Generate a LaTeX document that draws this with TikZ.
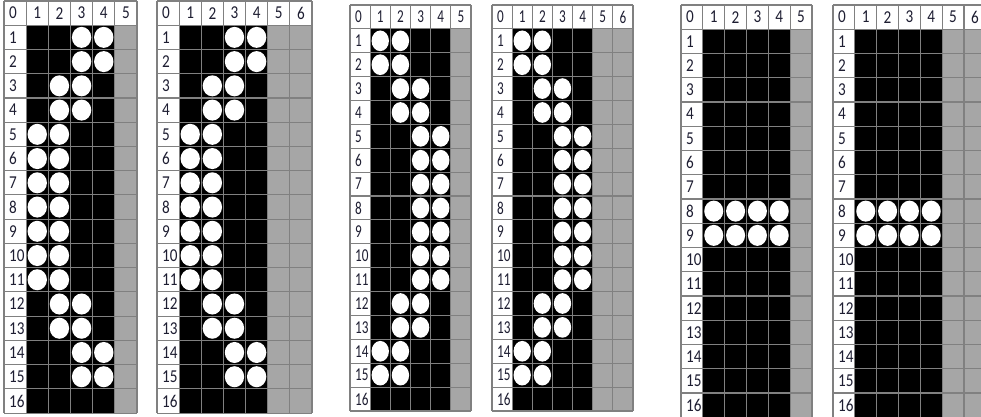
\documentclass[tikz,border=0pt]{standalone}
\usepackage{fontspec}
\setmainfont{Carlito}
\definecolor{gl}{RGB}{128,128,128}
\definecolor{cg}{RGB}{166,166,166}
\definecolor{tx}{RGB}{30,30,50}
\tikzset{
  gridline/.style={draw=gl,line width=1.1pt},
  lbl/.style={inner sep=0pt,font=\fontsize{16.5}{16.5}\selectfont,text=tx},
  dotfill/.style={fill=white}
}
% #1 id, #2 x0, #3 y0, #4 col width, #5 row height, #6 last column index, #7 text x-scale, #8 dot list
\newcommand{\brgrid}[8]{%
  \begin{scope}[shift={(#2,#3)}]
    \pgfmathtruncatemacro\nc{#6+1}
    \fill[white] (0,0) rectangle ({\nc*#4},{17*#5});
    \fill[black] (#4,#5) rectangle ({5*#4},{17*#5});
    \fill[cg] ({5*#4},#5) rectangle ({\nc*#4},{17*#5});
    \foreach \i in {0,...,\nc} \draw[gridline] ({\i*#4},0) -- ({\i*#4},{17*#5});
    \foreach \j in {0,...,17} \draw[gridline] (0,{\j*#5}) -- ({\nc*#4},{\j*#5});
    \foreach \cc/\rr in #8 {\fill[dotfill] ({(\cc+0.5)*#4},{(\rr+0.5)*#5}) ellipse [x radius={(#4/2-1.4)*1pt}, y radius={(#5/2-1.6)*1pt}];}
    \node[lbl,anchor=west] (#1h0) at (5,{0.5*#5}) {\scalebox{#7}[1.1]{0}};
    \foreach \i in {1,...,#6} \node[lbl] (#1h\i) at ({(\i+0.5)*#4},{0.5*#5}) {\scalebox{#7}[1.1]{\i}};
    \foreach \j in {1,...,16} \node[lbl,anchor=west] (#1r\j) at (5,{(\j+0.5)*#5}) {\scalebox{#7}[1.1]{\j}};
  \end{scope}%
}
\def\shapeA{3/1,4/1,3/2,4/2,2/3,3/3,2/4,3/4,1/5,2/5,1/6,2/6,1/7,2/7,1/8,2/8,1/9,2/9,1/10,2/10,1/11,2/11,2/12,3/12,2/13,3/13,3/14,4/14,3/15,4/15}
\def\shapeB{1/1,2/1,1/2,2/2,2/3,3/3,2/4,3/4,3/5,4/5,3/6,4/6,3/7,4/7,3/8,4/8,3/9,4/9,3/10,4/10,3/11,4/11,2/12,3/12,2/13,3/13,1/14,2/14,1/15,2/15}
\def\shapeC{1/8,2/8,3/8,4/8,1/9,2/9,3/9,4/9}
\begin{document}
\begin{tikzpicture}[x=1pt,y=-1pt]
  \useasboundingbox (0,0) rectangle (981,416);
  \clip (0,0) rectangle (981,416);
  \brgrid{ga}{4}{1}{22.17}{24.24}{5}{0.92}{\shapeA}
  \brgrid{gb}{157}{1}{22.14}{24.24}{6}{0.92}{\shapeA}
  \brgrid{gc}{350}{5}{20.17}{23.88}{5}{0.8}{\shapeB}
  \brgrid{gd}{492}{5}{20.14}{23.88}{6}{0.8}{\shapeB}
  \brgrid{ge}{681}{5}{21.83}{24.25}{5}{0.92}{\shapeC}
  \brgrid{gf}{833}{5}{21.83}{24.25}{6}{0.92}{\shapeC}
\end{tikzpicture}
\end{document}
